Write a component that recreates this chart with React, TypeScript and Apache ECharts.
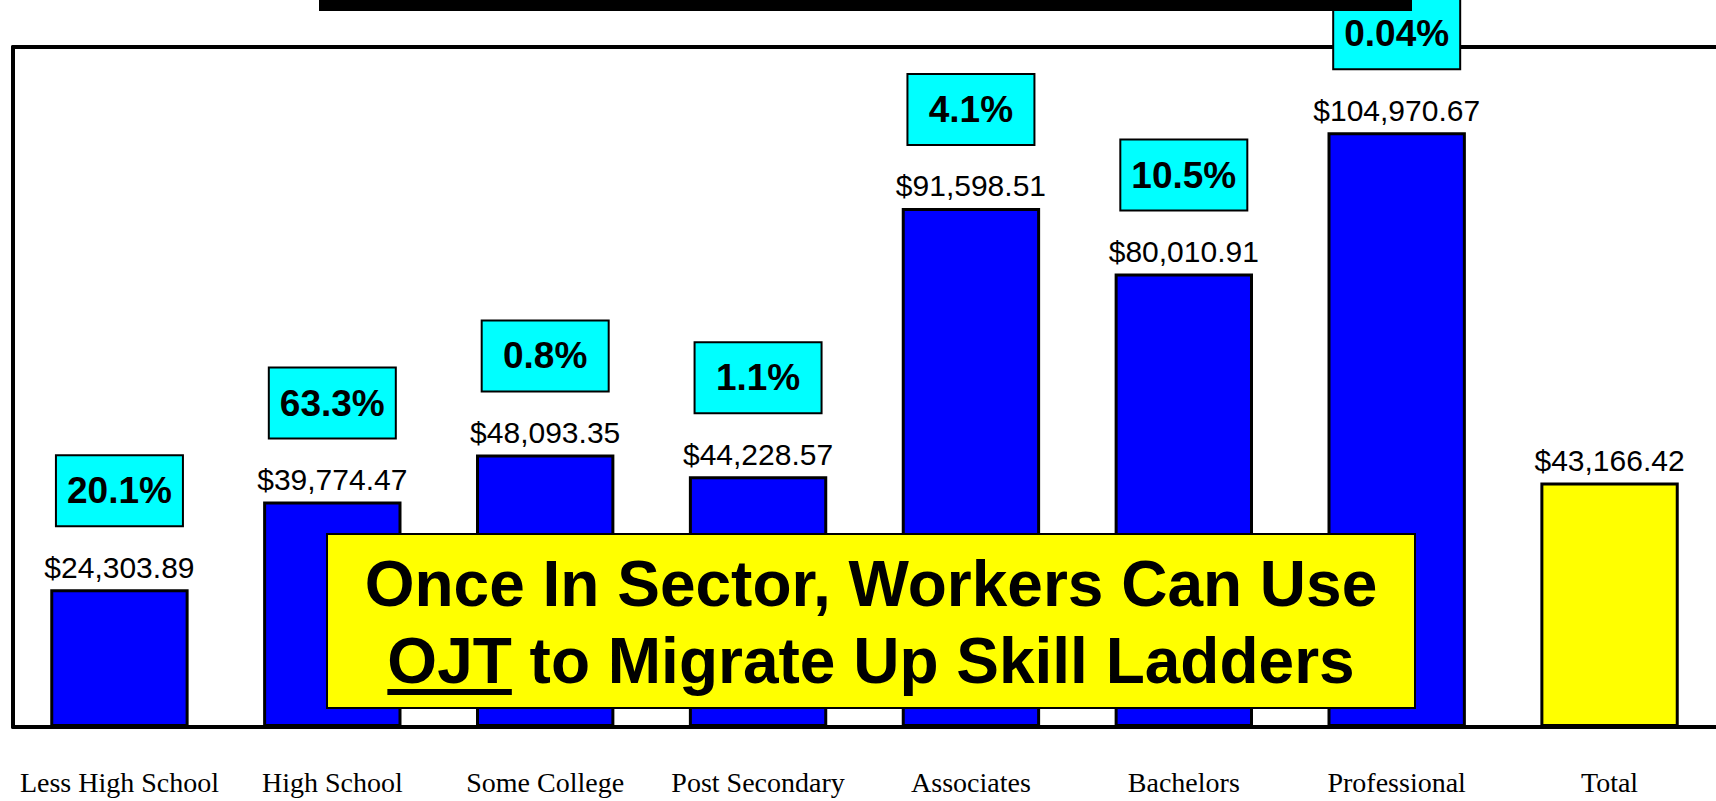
import React, { useEffect, useRef } from 'react';
import * as echarts from 'echarts';

const categories = [
  'Less High School',
  'High School',
  'Some College',
  'Post Secondary',
  'Associates',
  'Bachelors',
  'Professional',
  'Total',
];
const earnings = [24303.89, 39774.47, 48093.35, 44228.57, 91598.51, 80010.91, 104970.67, 43166.42];
const shares = ['20.1%', '63.3%', '0.8%', '1.1%', '4.1%', '10.5%', '0.04%', ''];
const yMin = 0;
const yMax = 120000;
const calloutLine1 = 'Once In Sector, Workers Can Use';
const calloutLine2Lead = 'OJT';
const calloutLine2Rest = ' to Migrate Up Skill Ladders';

const SANS = "'Liberation Sans', Arial, Helvetica, sans-serif";
const SERIF = "'Liberation Serif', 'Times New Roman', serif";

function measure(text: string, font: string): number {
  const c = document.createElement('canvas');
  const ctx = c.getContext('2d');
  if (!ctx) return text.length * 30;
  ctx.font = font;
  return ctx.measureText(text).width;
}

function fmtMoney(v: number): string {
  return '$' + v.toLocaleString('en-US', { minimumFractionDigits: 2, maximumFractionDigits: 2 });
}

export default function App() {
  const ref = useRef<HTMLDivElement>(null);

  useEffect(() => {
    document.body.style.margin = '0';
    if (!ref.current) return;
    const chart = echarts.init(ref.current, undefined, { renderer: 'svg' });

    const calloutFont = `bold 64px ${SANS}`;
    const cx = 871;
    const line2 = calloutLine2Lead + calloutLine2Rest;
    const w2 = measure(line2, calloutFont);
    const wLead = measure(calloutLine2Lead, calloutFont);
    const underlineX = cx - w2 / 2;

    const option: any = {
      animation: false,
      backgroundColor: '#ffffff',
      grid: { left: 13, right: 0, top: 47, bottom: 74, containLabel: false },
      xAxis: [
        {
          type: 'category',
          data: categories,
          position: 'bottom',
          axisLine: { show: true, lineStyle: { color: '#000', width: 4 } },
          axisTick: { show: false },
          axisLabel: {
            interval: 0,
            margin: 41,
            color: '#000',
            fontFamily: SERIF,
            fontSize: 28,
          },
        },
        {
          type: 'category',
          data: categories,
          position: 'top',
          axisLine: { show: true, lineStyle: { color: '#000', width: 4 } },
          axisTick: { show: false },
          axisLabel: { show: false },
        },
      ],
      yAxis: {
        type: 'value',
        min: yMin,
        max: yMax,
        splitLine: { show: false },
        axisLabel: { show: false },
        axisTick: { show: false },
        axisLine: { show: true, lineStyle: { color: '#000', width: 4 } },
      },
      series: [
        {
          type: 'bar',
          data: earnings,
          barWidth: '65%',
          itemStyle: {
            color: (p: any) => (p.name === 'Total' ? '#FFFF00' : '#0000FF'),
            borderColor: '#000',
            borderWidth: 3,
          },
          label: {
            show: true,
            position: 'top',
            distance: 6,
            formatter: (p: any) => {
              const s = shares[p.dataIndex];
              const v = `{val|${fmtMoney(p.value)}}`;
              return s ? `{pct|${s}}\n{gap| }\n${v}` : v;
            },
            rich: {
              pct: {
                fontFamily: SANS,
                fontSize: 37,
                fontWeight: 'bold',
                color: '#000',
                backgroundColor: '#00FFFF',
                borderColor: '#000',
                borderWidth: 2,
                width: 125,
                height: 69,
                lineHeight: 69,
                align: 'center',
              },
              gap: { fontSize: 2, height: 26, lineHeight: 26, align: 'center' },
              val: {
                fontFamily: SANS,
                fontSize: 30,
                lineHeight: 32,
                color: '#000',
                align: 'center',
              },
            },
          },
        },
      ],
      graphic: [
        {
          type: 'rect',
          z: 100,
          shape: { x: 319, y: 0, width: 1093, height: 11 },
          style: { fill: '#000' },
        },
        {
          type: 'rect',
          z: 100,
          shape: { x: 327, y: 534, width: 1088, height: 174 },
          style: { fill: '#FFFF00', stroke: '#000', lineWidth: 2 },
        },
        {
          type: 'text',
          z: 101,
          x: cx,
          y: 584,
          style: {
            text: calloutLine1,
            font: calloutFont,
            fill: '#000',
            align: 'center',
            verticalAlign: 'middle',
          },
        },
        {
          type: 'text',
          z: 101,
          x: cx,
          y: 661,
          style: {
            text: line2,
            font: calloutFont,
            fill: '#000',
            align: 'center',
            verticalAlign: 'middle',
          },
        },
        {
          type: 'rect',
          z: 101,
          shape: { x: underlineX, y: 689, width: wLead, height: 6 },
          style: { fill: '#000' },
        },
      ],
    };

    chart.setOption(option);
    return () => chart.dispose();
  }, []);

  return <div ref={ref} style={{ width: 1716, height: 801 }} />;
}
